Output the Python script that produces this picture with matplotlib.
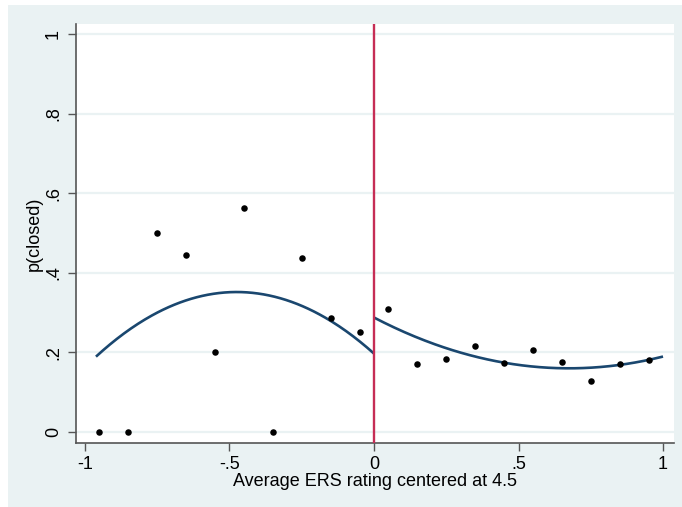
import numpy as np
import matplotlib
matplotlib.use("Agg")
import matplotlib.pyplot as plt
from matplotlib.patches import Rectangle

plt.rcParams['font.family'] = ['Liberation Sans', 'DejaVu Sans']

# Binned means of p(closed) by centered ERS rating
bin_x = [-0.95, -0.85, -0.75, -0.65, -0.55, -0.45, -0.35, -0.25, -0.15, -0.05,
         0.05, 0.15, 0.25, 0.35, 0.45, 0.55, 0.65, 0.75, 0.85, 0.95]
bin_p = [0.0, 0.0, 0.5, 0.444, 0.2, 0.5625, 0.0, 0.4375, 0.2857, 0.25,
         0.31, 0.171, 0.184, 0.217, 0.174, 0.207, 0.176, 0.128, 0.171, 0.181]

# Quadratic fits on each side of the cutoff: (a, b, c) for a*x^2 + b*x + c
fit_left = (-0.685, -0.651, 0.197)
fit_left_range = (-0.962, 0.0)
fit_right = (0.28, -0.378, 0.2876)
fit_right_range = (0.0, 1.0)

cutoff = 0.0

x_ticks = [-1, -0.5, 0, 0.5, 1]
x_tick_labels = ["-1", "-.5", "0", ".5", "1"]
y_ticks = [0, 0.2, 0.4, 0.6, 0.8, 1]
y_tick_labels = ["0", ".2", ".4", ".6", ".8", "1"]

BG = "#EAF2F3"
NAVY = "#1A476F"
RED = "#C62D55"
AXIS = "#555555"
FS = 13

W, H = 682, 507
fig = plt.figure(figsize=(W / 100, H / 100), dpi=100, facecolor="white")
fig.patches.append(Rectangle((8 / W, 0), 1 - 8 / W, 1 - 5 / H,
                             transform=fig.transFigure, facecolor=BG,
                             edgecolor="none", zorder=-10))

ax = fig.add_axes([76 / W, (H - 443) / H, (674 - 76) / W, (443 - 24) / H])
ax.set_zorder(1)
ax.set_facecolor("white")
ax.set_xlim(-1.0311, 1.038)
ax.set_ylim(-0.0276, 1.025)

for s in ("top", "right"):
    ax.spines[s].set_visible(False)
for s in ("left", "bottom"):
    ax.spines[s].set_color(AXIS)
    ax.spines[s].set_linewidth(1.2)

ax.set_yticks(y_ticks)
ax.set_yticklabels(y_tick_labels, rotation=90, va="center")
ax.set_xticks(x_ticks)
ax.set_xticklabels(x_tick_labels)
ax.tick_params(axis="both", direction="out", length=5.5, width=1.0,
               color=AXIS, labelsize=FS, labelcolor="black")
ax.tick_params(axis="x", pad=4)
ax.tick_params(axis="y", pad=4.5)

ax.grid(axis="y", color=BG, linewidth=1.6, zorder=0)
ax.set_axisbelow(True)

# Fitted curves
for coef, (lo, hi) in ((fit_left, fit_left_range), (fit_right, fit_right_range)):
    xs = np.linspace(lo, hi, 200)
    ax.plot(xs, np.polyval(coef, xs), color=NAVY, linewidth=1.9, zorder=3,
            solid_capstyle="butt")

ax.scatter(bin_x, bin_p, s=22, color="black", zorder=4, linewidths=0)
ax.axvline(cutoff, color=RED, linewidth=1.7, zorder=5)

ax.set_xlabel("Average ERS rating centered at 4.5", fontsize=FS, labelpad=0)
ax.set_ylabel("p(closed)", fontsize=FS, labelpad=2)

fig.savefig("out.png", dpi=100, facecolor="white")
